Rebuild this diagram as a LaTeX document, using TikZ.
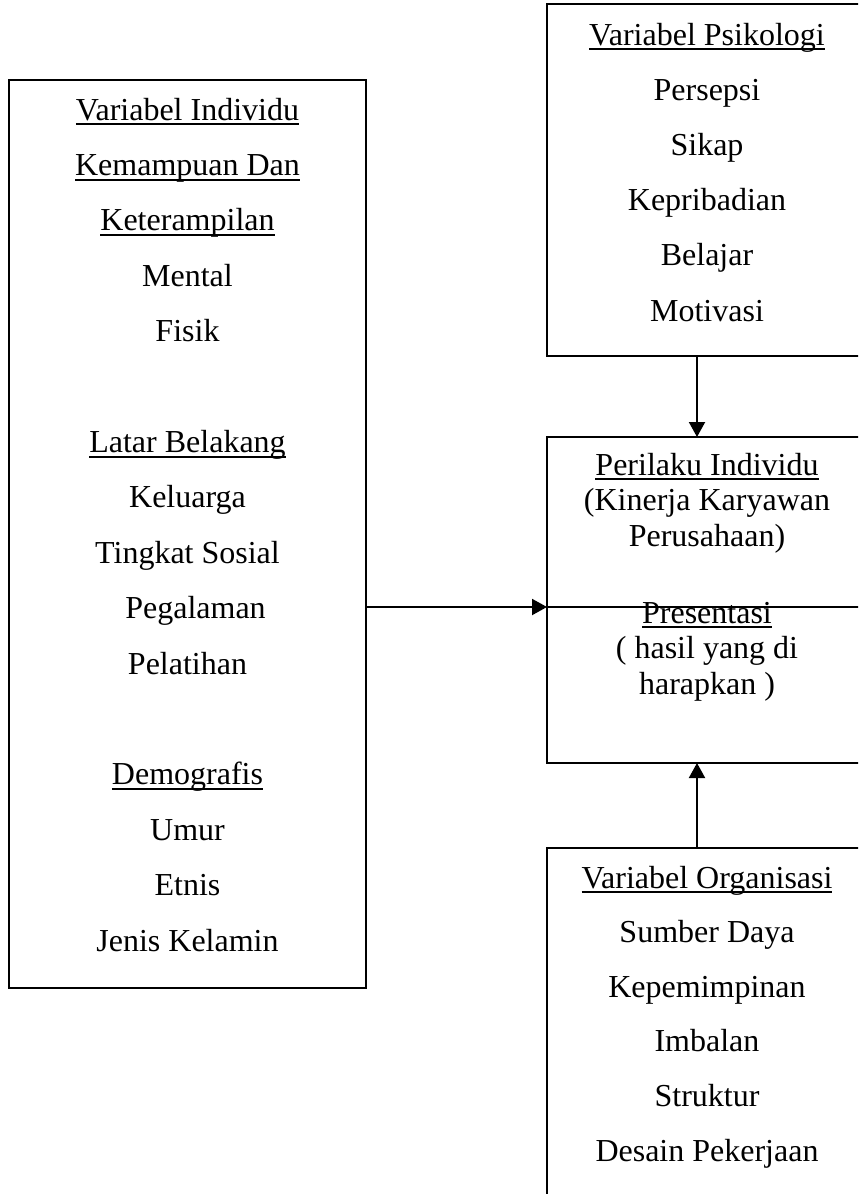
\documentclass[tikz,border=0pt]{standalone}
\usepackage{fontspec}
\setmainfont{Liberation Serif}
\usetikzlibrary{arrows.meta}

% underlined heading, rule crossing the descenders
\newcommand{\ulin}[1]{\setbox0=\hbox{#1}\rlap{\rule[-2.6pt]{\wd0}{1pt}}\box0}

\begin{document}
\begin{tikzpicture}[x=0.5pt, y=-0.5pt,
    box/.style={draw, line width=1pt, inner sep=0pt, outer sep=0pt},
    lbl/.style={anchor=base, inner sep=0pt, font=\fontsize{16}{19}\selectfont},
    arr/.style={line width=1pt, -{Triangle[length=7.5pt,width=8pt]}}]

% Page frame
\useasboundingbox (0,0) rectangle (858,1194);
\clip (0,0) rectangle (858,1194);

% Define the line steps
\def\StepL{55.4} % left box
\def\StepP{55.2} % psikologi box
\def\StepO{54.6} % organisasi box

% Draw the boxes
\node[box, minimum width=178.5pt, minimum height=454pt] (indiv) at (187.5,534) {};
\node[box, minimum width=160pt, minimum height=176pt] (psiko) at (707,180) {};
\node[box, minimum width=160pt, minimum height=163pt] (perilaku) at (707,600) {};
\node[box, minimum width=160pt, minimum height=201pt] (org) at (707,1049) {};

% Variabel individu
\foreach \i/\txt in {0/{\ulin{Variabel Individu}}, 1/{\ulin{Kemampuan Dan}},
    2/{\ulin{Keterampilan}}, 3/Mental, 4/Fisik,
    6/{\ulin{Latar Belakang}}, 7/Keluarga, 8/Tingkat Sosial,
    9/{\hspace{8pt}Pegalaman}, 10/Pelatihan,
    12/{\ulin{Demografis}}, 13/Umur, 14/Etnis, 15/Jenis Kelamin}
    \node[lbl] (indiv-\i) at (187.5, 120+\StepL*\i) {\txt};

% Variabel psikologi
\foreach \txt [count=\i from 0] in {{\ulin{Variabel Psikologi}}, Persepsi, Sikap,
    Kepribadian, Belajar, Motivasi}
    \node[lbl] (psiko-\i) at (707, 45+\StepP*\i) {\txt};

% Perilaku individu
\foreach \y/\txt [count=\i] in {475/{\ulin{Perilaku Individu}}, 510.5/(Kinerja Karyawan,
    546/Perusahaan), 623/{\ulin{Presentasi}}, 658.5/( hasil yang di, 694/harapkan )}
    \node[lbl] (perilaku-\i) at (707, \y) {\txt};

% Variabel organisasi
\foreach \txt [count=\i from 0] in {{\ulin{Variabel Organisasi}}, Sumber Daya,
    Kepemimpinan, Imbalan, Struktur, Desain Pekerjaan}
    \node[lbl] (org-\i) at (707, 888+\StepO*\i) {\txt};

% Connectors
\coordinate (armY) at (0,607);
\coordinate (armX) at (697,0);
\draw[arr] (indiv.east |- armY) -- (perilaku.west |- armY);
\draw[line width=0.8pt] (perilaku.west |- armY) -- (perilaku.east |- armY);
\draw[arr] (psiko.south -| armX) -- (perilaku.north -| armX);
\draw[arr] (org.north -| armX) -- (perilaku.south -| armX);

\end{tikzpicture}
\end{document}
